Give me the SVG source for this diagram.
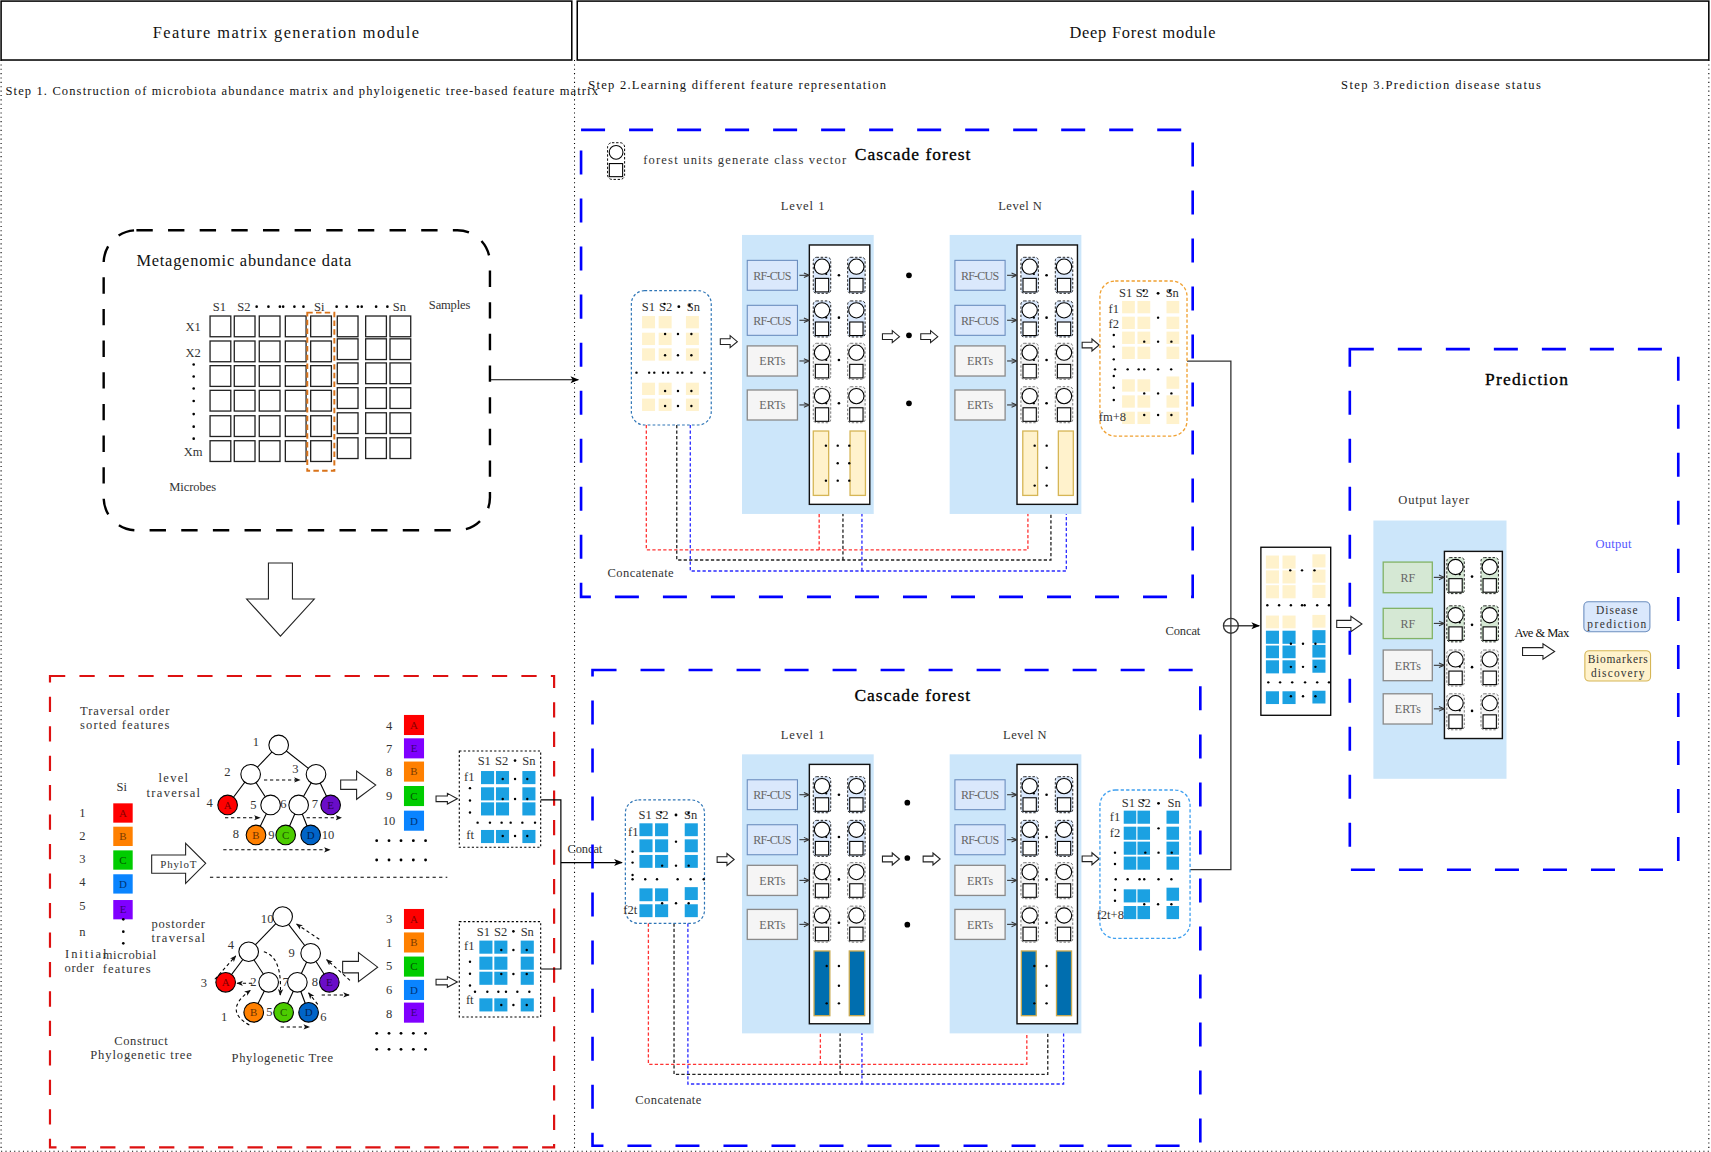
<svg xmlns="http://www.w3.org/2000/svg" width="1711" height="1152" viewBox="0 0 1711 1152">
<defs>
<style>
text{font-family:"Liberation Serif","DejaVu Serif",serif;fill:#333;font-size:11.5px}
.c{text-anchor:middle}
.hd{font-size:15px;fill:#111}
.ttl{font-size:16px;fill:#000;stroke:#000;stroke-width:0.3}
.stp{fill:#111}
.bt{font-size:11px;fill:#666;text-anchor:middle}
.lt{font-size:10px;text-anchor:middle}
.d{fill:#000}
.cell{fill:#fff;stroke:#222;stroke-width:1.2}
.bg{fill:#fff2cc}
.bl{fill:#1ba1e2}
.lbg{fill:#cce6fa}
.col{fill:#fff;stroke:#111;stroke-width:1.3}
.rfb{fill:#dae8fc;stroke:#6c8ebf;stroke-width:1}
.erb{fill:#f5f5f5;stroke:#8a8a8a;stroke-width:1.2}
.gnb{fill:#d5e8d4;stroke:#82b366;stroke-width:1.2}
.bdash{fill:none;stroke:#0000ff;stroke-width:2.4;stroke-dasharray:22 22}
.dotl{fill:none;stroke:#000;stroke-width:1;stroke-dasharray:1 3}
.hol{fill:#fff;stroke:#222;stroke-width:1}
.edge{stroke:#000;stroke-width:1}
.tda{fill:none;stroke:#000;stroke-width:1;stroke-dasharray:3 2.5;marker-end:url(#ak2)}
.sa{stroke:#333;stroke-width:1;marker-end:url(#ao)}
.dr{fill:none;stroke:#ff3333;stroke-width:1.2;stroke-dasharray:3 2;marker-end:url(#ar)}
.dk{fill:none;stroke:#222;stroke-width:1.2;stroke-dasharray:3 2;marker-end:url(#ak2)}
.db{fill:none;stroke:#2b2bff;stroke-width:1.2;stroke-dasharray:3 2;marker-end:url(#ab)}
.bar1{fill:#fff2cc;stroke:#d6b656;stroke-width:1.2}
.bar2{fill:#006eaf;stroke:#c9a94f;stroke-width:1.2}
</style>
<marker id="ak" viewBox="0 0 10 10" refX="9" refY="5" markerWidth="8" markerHeight="8" markerUnits="userSpaceOnUse" orient="auto"><path d="M0 1L10 5L0 9L2.5 5z" fill="#000"/></marker>
<marker id="ak2" viewBox="0 0 10 10" refX="9" refY="5" markerWidth="6" markerHeight="6" markerUnits="userSpaceOnUse" orient="auto"><path d="M0 1L10 5L0 9L2.5 5z" fill="#111"/></marker>
<marker id="ar" viewBox="0 0 10 10" refX="9" refY="5" markerWidth="6" markerHeight="6" markerUnits="userSpaceOnUse" orient="auto"><path d="M0 1L10 5L0 9L2.5 5z" fill="#ff3030"/></marker>
<marker id="ab" viewBox="0 0 10 10" refX="9" refY="5" markerWidth="6" markerHeight="6" markerUnits="userSpaceOnUse" orient="auto"><path d="M0 1L10 5L0 9L2.5 5z" fill="#1f1fff"/></marker>
<marker id="ao" viewBox="0 0 10 10" refX="9" refY="5" markerWidth="6" markerHeight="6" markerUnits="userSpaceOnUse" orient="auto"><path d="M1 1.5L9 5L1 8.5" fill="none" stroke="#333" stroke-width="1.6"/></marker>
<path id="ha" d="M0 -2.6H9V-5.5L15.6 0L9 5.5V2.6H0Z" fill="#fff" stroke="#222" stroke-width="1"/>
<g id="uB"><rect width="16" height="33" rx="3" fill="#dae8fc" stroke="#222" stroke-width="0.9" stroke-dasharray="2.2 1.6"/><circle cx="8" cy="8.6" r="7" fill="#fff" stroke="#000" stroke-width="1"/><rect x="1.9" y="19.3" width="12.2" height="12.4" fill="#fff" stroke="#000" stroke-width="1"/></g>
<g id="uG"><rect width="16" height="33" rx="3" fill="#f5f5f5" stroke="#777" stroke-width="0.9" stroke-dasharray="2.2 1.6"/><circle cx="8" cy="8.6" r="7" fill="#fff" stroke="#000" stroke-width="1"/><rect x="1.9" y="19.3" width="12.2" height="12.4" fill="#fff" stroke="#000" stroke-width="1"/></g>
<g id="uN"><rect width="16" height="33" rx="3" fill="#d5e8d4" stroke="#222" stroke-width="0.9" stroke-dasharray="2.2 1.6"/><circle cx="8" cy="8.6" r="7" fill="#fff" stroke="#000" stroke-width="1"/><rect x="1.9" y="19.3" width="12.2" height="12.4" fill="#fff" stroke="#000" stroke-width="1"/></g>
<g id="lvlbase">
<rect class="lbg" width="120.7" height="255.7"/>
<rect class="col" x="61.7" y="9.2" width="55.4" height="237.7"/>
<rect class="rfb" x="4.8" y="23.3" width="46" height="27.4"/>
<rect class="rfb" x="4.8" y="64.5" width="46" height="27.5"/>
<rect class="erb" x="4.8" y="101.7" width="46" height="27.6"/>
<rect class="erb" x="4.8" y="142.1" width="46" height="27.5"/>
<line class="sa" x1="52.6" y1="37" x2="61.5" y2="37"/>
<line class="sa" x1="52.6" y1="78.2" x2="61.5" y2="78.2"/>
<line class="sa" x1="52.6" y1="115.5" x2="61.5" y2="115.5"/>
<line class="sa" x1="52.6" y1="155.8" x2="61.5" y2="155.8"/>
<use href="#uB" x="65.3" y="20.5"/><use href="#uB" x="96.8" y="20.5"/>
<use href="#uB" x="65.3" y="60.5"/><use href="#uB" x="96.8" y="60.5"/>
<use href="#uG" x="65.3" y="99.3"/><use href="#uG" x="96.8" y="99.3"/>
<use href="#uG" x="65.3" y="139.1"/><use href="#uG" x="96.8" y="139.1"/>
<g class="d"><circle cx="77.2" cy="35.8" r="1"/><circle cx="88.8" cy="37" r="1.2"/><circle cx="77.2" cy="75.8" r="1"/><circle cx="88.8" cy="75.8" r="1.2"/><circle cx="77.2" cy="114.6" r="1"/><circle cx="88.8" cy="114.6" r="1.2"/><circle cx="77.2" cy="154.3" r="1"/><circle cx="88.8" cy="154.3" r="1.2"/></g>
</g>
</defs>
<rect width="1711" height="1152" fill="#fff"/>
<g transform="scale(1.0912)">

<g id="frame">
<path class="dotl" d="M1 55V1055M526.5 55V1055M1566 55V1055M1 1055H1566"/>
<rect x="1" y="1" width="523" height="54" fill="none" stroke="#000" stroke-width="1.4"/>
<text x="262" y="35" class="hd c" textLength="244">Feature matrix generation module</text>
<rect x="529" y="1" width="1037" height="54" fill="none" stroke="#000" stroke-width="1.4"/>
<text x="1047" y="35" class="hd c" textLength="134">Deep Forest module</text>
<text x="5" y="87" class="stp" textLength="543">Step 1. Construction of microbiota abundance matrix and phyloigenetic tree-based feature matrix</text>
<text x="539" y="82" class="stp" textLength="273">Step 2.Learning different feature representation</text>
<text x="1229" y="82" class="stp" textLength="183">Step 3.Prediction disease status</text>
</g>

<g id="abundance">
<rect x="95" y="211" width="354" height="275" rx="30" fill="none" stroke="#000" stroke-width="2.2" stroke-dasharray="15 14"/>
<text x="125" y="244" class="hd" textLength="197">Metagenomic abundance data</text>
<g class="cell">
<rect x="192.5" y="289.6" width="19" height="19"/><rect x="214.7" y="289.6" width="19" height="19"/><rect x="237.6" y="289.6" width="19" height="19"/><rect x="261.5" y="289.6" width="19" height="19"/><rect x="284.7" y="289.6" width="19" height="19"/><rect x="309.1" y="289.6" width="19" height="19"/><rect x="335.1" y="289.6" width="19" height="19"/><rect x="357.4" y="289.6" width="19" height="19"/>
<rect x="192.5" y="312.5" width="19" height="19"/><rect x="214.7" y="312.5" width="19" height="19"/><rect x="237.6" y="312.5" width="19" height="19"/><rect x="261.5" y="312.5" width="19" height="19"/><rect x="284.7" y="312.5" width="19" height="19"/><rect x="309.1" y="310.5" width="19" height="19"/><rect x="335.1" y="310.5" width="19" height="19"/><rect x="357.4" y="310.5" width="19" height="19"/>
<rect x="192.5" y="335.1" width="19" height="19"/><rect x="214.7" y="335.1" width="19" height="19"/><rect x="237.6" y="335.1" width="19" height="19"/><rect x="261.5" y="335.1" width="19" height="19"/><rect x="284.7" y="335.1" width="19" height="19"/><rect x="309.1" y="332.6" width="19" height="19"/><rect x="335.1" y="332.6" width="19" height="19"/><rect x="357.4" y="332.6" width="19" height="19"/>
<rect x="192.5" y="357.7" width="19" height="19"/><rect x="214.7" y="357.7" width="19" height="19"/><rect x="237.6" y="357.7" width="19" height="19"/><rect x="261.5" y="357.7" width="19" height="19"/><rect x="284.7" y="357.7" width="19" height="19"/><rect x="309.1" y="355.3" width="19" height="19"/><rect x="335.1" y="355.3" width="19" height="19"/><rect x="357.4" y="355.3" width="19" height="19"/>
<rect x="192.5" y="381" width="19" height="19"/><rect x="214.7" y="381" width="19" height="19"/><rect x="237.6" y="381" width="19" height="19"/><rect x="261.5" y="381" width="19" height="19"/><rect x="284.7" y="381" width="19" height="19"/><rect x="309.1" y="378.3" width="19" height="19"/><rect x="335.1" y="378.3" width="19" height="19"/><rect x="357.4" y="378.3" width="19" height="19"/>
<rect x="192.5" y="403.9" width="19" height="19"/><rect x="214.7" y="403.9" width="19" height="19"/><rect x="237.6" y="403.9" width="19" height="19"/><rect x="261.5" y="403.9" width="19" height="19"/><rect x="284.7" y="403.9" width="19" height="19"/><rect x="309.1" y="401.2" width="19" height="19"/><rect x="335.1" y="401.2" width="19" height="19"/><rect x="357.4" y="401.2" width="19" height="19"/>
</g>
<rect x="281.6" y="286.5" width="24.8" height="145" fill="none" stroke="#d9731a" stroke-width="1.8" stroke-dasharray="5 3"/>
<text x="201" y="285" class="c">S1</text><text x="223.6" y="285" class="c">S2</text><text x="292.6" y="285" class="c">Si</text><text x="366" y="285" class="c">Sn</text>
<g class="d"><circle cx="235.2" cy="281" r="1.2"/><circle cx="246" cy="281" r="1.2"/><circle cx="256.5" cy="281" r="1.2"/><circle cx="259.5" cy="281" r="1.2"/><circle cx="269.8" cy="281" r="1.2"/><circle cx="278.1" cy="281" r="1.2"/>
<circle cx="308.5" cy="281" r="1.2"/><circle cx="317.7" cy="281" r="1.2"/><circle cx="328" cy="281" r="1.2"/><circle cx="331.5" cy="281" r="1.2"/><circle cx="344.7" cy="281" r="1.2"/><circle cx="355" cy="281" r="1.2"/>
<circle cx="177.5" cy="334" r="1.2"/><circle cx="177.5" cy="345" r="1.2"/><circle cx="177.5" cy="356" r="1.2"/><circle cx="177.5" cy="367.5" r="1.2"/><circle cx="177.5" cy="379.5" r="1.2"/><circle cx="177.5" cy="391" r="1.2"/><circle cx="177.5" cy="402" r="1.2"/></g>
<text x="412" y="283" class="c" textLength="38">Samples</text>
<text x="177" y="303" class="c">X1</text><text x="177" y="327" class="c">X2</text><text x="177" y="418" class="c">Xm</text>
<text x="155" y="450" textLength="43">Microbes</text>
</g>

<g id="down-arrow"><polygon class="hol" points="246,516 268,516 268,549 288,549 257,583 226,549 246,549"/></g>

<g id="phylo-panel">
<rect x="45.8" y="619.5" width="462" height="432" fill="none" stroke="#dd1111" stroke-width="2" stroke-dasharray="14 13"/>
<text x="73.3" y="655" textLength="82">Traversal order</text>
<text x="73.3" y="668" textLength="82">sorted features</text>
<text x="158.8" y="717" class="c" textLength="27">level</text>
<text x="158.8" y="730" class="c" textLength="49">traversal</text>
<text x="111.5" y="725.3" class="c">Si</text>
<text x="75.4" y="748.5" class="c">1</text><text x="75.4" y="769.6" class="c">2</text><text x="75.4" y="790.8" class="c">3</text><text x="75.4" y="812.4" class="c">4</text><text x="75.4" y="834.1" class="c">5</text><text x="75.4" y="857.8" class="c">n</text>
<rect x="103.8" y="736.2" width="17.8" height="17.7" fill="#ff0000"/><rect x="103.8" y="757.6" width="17.8" height="17.7" fill="#ff8000"/><rect x="103.8" y="779.3" width="17.8" height="17.7" fill="#00cc00"/><rect x="103.8" y="801.2" width="17.8" height="17.7" fill="#0a84ff"/><rect x="103.8" y="824.8" width="17.8" height="17.7" fill="#8000ff"/>
<text x="112.7" y="748.5" class="lt" style="fill:#8b0000">A</text><text x="112.7" y="769.9" class="lt" style="fill:#7a3a00">B</text><text x="112.7" y="791.6" class="lt" style="fill:#005500">C</text><text x="112.7" y="813.5" class="lt" style="fill:#003377">D</text><text x="112.7" y="837.1" class="lt" style="fill:#3a0077">E</text>
<g class="d"><circle cx="113" cy="842.5" r="1.2"/><circle cx="113" cy="853.8" r="1.2"/><circle cx="113" cy="864.5" r="1.2"/></g>
<text x="59.6" y="877.5" textLength="38">Initial</text>
<text x="59" y="890.5" textLength="27">order</text>
<text x="94.1" y="879" textLength="49">microbial</text>
<text x="94.1" y="892" textLength="44">features</text>
<polygon class="hol" points="139,783.5 170.1,783.5 170.1,772.8 188.5,791.2 170.1,809.5 170.1,800.3 139,800.3"/>
<text x="163.4" y="795" class="lt" textLength="33">PhyloT</text>
<line x1="192.4" y1="804" x2="409.9" y2="804" stroke="#000" stroke-width="1" stroke-dasharray="3 3"/>
<text x="129.2" y="957.5" class="c" textLength="49">Construct</text>
<text x="129.2" y="970.6" class="c" textLength="93">Phylogenetic tree</text>
</g>

<g id="level-tree">
<g class="edge">
<line x1="255.4" y1="682.7" x2="229.7" y2="709.6"/><line x1="255.4" y1="682.7" x2="289.6" y2="709.6"/>
<line x1="229.7" y1="709.6" x2="208.6" y2="737.7"/><line x1="229.7" y1="709.6" x2="248" y2="737.7"/>
<line x1="289.6" y1="709.6" x2="273.7" y2="737.7"/><line x1="289.6" y1="709.6" x2="303" y2="737.7"/>
<line x1="248" y1="737.7" x2="234.6" y2="765.2"/><line x1="273.7" y1="737.7" x2="261.8" y2="765.2"/><line x1="273.7" y1="737.7" x2="284.7" y2="765.2"/>
</g>
<g class="edge">
<circle cx="255.4" cy="682.7" r="9" fill="#fff"/><circle cx="229.7" cy="709.6" r="9" fill="#fff"/><circle cx="289.6" cy="709.6" r="9" fill="#fff"/>
<circle cx="208.6" cy="737.7" r="9" fill="#ff0000"/><circle cx="248" cy="737.7" r="9" fill="#fff"/><circle cx="273.7" cy="737.7" r="9" fill="#fff"/><circle cx="303" cy="737.7" r="9" fill="#6a0dc8"/>
<circle cx="234.6" cy="765.2" r="9" fill="#ff8000"/><circle cx="261.8" cy="765.2" r="9" fill="#4ccc00"/><circle cx="284.7" cy="765.2" r="9" fill="#0064c8"/>
</g>
<text x="208.6" y="741.2" class="lt" style="fill:#7a0000">A</text><text x="303" y="741.2" class="lt" style="fill:#2a0055">E</text><text x="234.6" y="768.7" class="lt" style="fill:#6a3000">B</text><text x="261.8" y="768.7" class="lt" style="fill:#1d5500">C</text><text x="284.7" y="768.7" class="lt" style="fill:#002255">D</text>
<text x="234.6" y="683.5" class="c">1</text><text x="208.3" y="711.3" class="c">2</text><text x="270.6" y="708.8" class="c">3</text><text x="192.1" y="740" class="c">4</text><text x="232.1" y="741.5" class="c">5</text><text x="259.6" y="740.6" class="c">6</text><text x="288.6" y="740.6" class="c">7</text><text x="216.2" y="768.4" class="c">8</text><text x="248.8" y="768.8" class="c">9</text><text x="300.5" y="768.8" class="c">10</text>
<line class="tda" x1="241.9" y1="714.8" x2="274.9" y2="714.8"/>
<line class="tda" x1="206.2" y1="749.4" x2="238.3" y2="749.4"/>
<line class="tda" x1="281" y1="749.4" x2="313" y2="749.4"/>
<line class="tda" x1="204.6" y1="778.8" x2="302.4" y2="778.8"/>
</g>

<g id="postorder-tree">
<text x="163.4" y="850" class="c" textLength="49">postorder</text>
<text x="163.4" y="863" class="c" textLength="49">traversal</text>
<g class="edge">
<line x1="259" y1="840" x2="227.9" y2="872.2"/><line x1="259" y1="840" x2="284.7" y2="873.6"/>
<line x1="227.9" y1="872.2" x2="206.8" y2="900.2"/><line x1="227.9" y1="872.2" x2="246.2" y2="900.2"/>
<line x1="284.7" y1="873.6" x2="272.5" y2="900.2"/><line x1="284.7" y1="873.6" x2="301.8" y2="900.2"/>
<line x1="246.2" y1="900.2" x2="232.5" y2="927.7"/><line x1="272.5" y1="900.2" x2="259.9" y2="927.7"/><line x1="272.5" y1="900.2" x2="282.8" y2="927.7"/>
</g>
<g class="edge">
<circle cx="259" cy="840" r="9" fill="#fff"/><circle cx="227.9" cy="872.2" r="9" fill="#fff"/><circle cx="284.7" cy="873.6" r="9" fill="#fff"/>
<circle cx="206.8" cy="900.2" r="9" fill="#ff0000"/><circle cx="246.2" cy="900.2" r="9" fill="#fff"/><circle cx="272.5" cy="900.2" r="9" fill="#fff"/><circle cx="301.8" cy="900.2" r="9" fill="#6a0dc8"/>
<circle cx="232.5" cy="927.7" r="9" fill="#ff8000"/><circle cx="259.9" cy="927.7" r="9" fill="#4ccc00"/><circle cx="282.8" cy="927.7" r="9" fill="#0064c8"/>
</g>
<text x="206.8" y="903.7" class="lt" style="fill:#7a0000">A</text><text x="301.8" y="903.7" class="lt" style="fill:#2a0055">E</text><text x="232.5" y="931.2" class="lt" style="fill:#6a3000">B</text><text x="259.9" y="931.2" class="lt" style="fill:#1d5500">C</text><text x="282.8" y="931.2" class="lt" style="fill:#002255">D</text>
<text x="244.8" y="845.4" class="c">10</text><text x="211.5" y="869.7" class="c">4</text><text x="267.2" y="877.4" class="c">9</text><text x="186.9" y="904.9" class="c">3</text><text x="232.1" y="904" class="c">2</text><text x="261.8" y="904" class="c">7</text><text x="288.6" y="904" class="c">8</text><text x="205.3" y="935.4" class="c">1</text><text x="246.8" y="931.5" class="c">5</text><text x="296.3" y="935.4" class="c">6</text>
<path class="tda" d="M228.5 939.3Q204 926 229.5 907.5"/>
<line class="tda" x1="231" y1="901.1" x2="217.2" y2="901.1"/>
<line class="tda" x1="196.9" y1="897.4" x2="216.1" y2="876"/>
<path class="tda" d="M241.8 872.2Q259 877 256.8 911.9"/>
<line class="tda" x1="257.2" y1="941.1" x2="283.5" y2="941.1"/>
<line class="tda" x1="291.2" y1="920.5" x2="282.8" y2="909.9"/>
<line class="tda" x1="294.8" y1="911.8" x2="320" y2="911.8"/>
<line class="tda" x1="320.7" y1="898.4" x2="299.3" y2="879.4"/>
<line class="tda" x1="292.6" y1="860.8" x2="271.8" y2="846.8"/>
<text x="258.7" y="973" class="c" textLength="93">Phylogenetic Tree</text>
</g>

<g id="level-list">
<polygon class="hol" points="312.2,714.8 326.8,714.8 326.8,706.6 344.3,719.5 326.8,732.5 326.8,723.4 312.2,723.4"/>
<text x="356.5" y="669.1" class="c">4</text><text x="356.5" y="690.5" class="c">7</text><text x="356.5" y="711.3" class="c">8</text><text x="356.5" y="733.3" class="c">9</text><text x="356.5" y="755.6" class="c">10</text>
<rect x="370.2" y="655.2" width="18.4" height="18.4" fill="#ff0000"/><rect x="370.2" y="676.6" width="18.4" height="18.4" fill="#8000ff"/><rect x="370.2" y="697.9" width="18.4" height="18.4" fill="#ff8000"/><rect x="370.2" y="720.3" width="18.4" height="18.4" fill="#00cc00"/><rect x="370.2" y="742.9" width="18.4" height="18.4" fill="#0a84ff"/>
<text x="379.4" y="667.9" class="lt" style="fill:#8b0000">A</text><text x="379.4" y="689.3" class="lt" style="fill:#3a0077">E</text><text x="379.4" y="710.6" class="lt" style="fill:#7a3a00">B</text><text x="379.4" y="733" class="lt" style="fill:#005500">C</text><text x="379.4" y="755.6" class="lt" style="fill:#003377">D</text>
<g class="d"><circle cx="345.2" cy="770.4" r="1.3"/><circle cx="356.5" cy="770.4" r="1.3"/><circle cx="367.5" cy="770.4" r="1.3"/><circle cx="378.8" cy="770.4" r="1.3"/><circle cx="390" cy="770.4" r="1.3"/>
<circle cx="345.2" cy="788.1" r="1.3"/><circle cx="356.5" cy="788.1" r="1.3"/><circle cx="367.5" cy="788.1" r="1.3"/><circle cx="378.8" cy="788.1" r="1.3"/><circle cx="390" cy="788.1" r="1.3"/></g>
<polygon class="hol" points="399.6,729.4 410,729.4 410,727 419.1,732 410,736.8 410,734.6 399.6,734.6"/>
</g>

<g id="level-matrix">
<rect x="420.9" y="688.2" width="74.6" height="88.3" fill="#fff" stroke="#000" stroke-width="1" stroke-dasharray="2 2"/>
<g class="bl">
<rect x="440.8" y="706.6" width="12" height="12"/><rect x="454.5" y="706.6" width="12" height="12"/><rect x="478.7" y="706.6" width="12" height="12"/>
<rect x="440.8" y="721.5" width="12" height="12"/><rect x="454.5" y="721.5" width="12" height="12"/><rect x="478.7" y="721.5" width="12" height="12"/>
<rect x="440.8" y="735.3" width="12" height="12"/><rect x="454.5" y="735.3" width="12" height="12"/><rect x="478.7" y="735.3" width="12" height="12"/>
<rect x="440.8" y="760.6" width="12" height="12"/><rect x="454.5" y="760.6" width="12" height="12"/><rect x="478.7" y="760.6" width="12" height="12"/>
</g>
<text x="443.8" y="701" class="c">S1</text><text x="459.7" y="701" class="c">S2</text><text x="484.7" y="701" class="c">Sn</text>
<text x="430" y="716" class="c">f1</text><text x="430.8" y="768.5" class="c">ft</text>
<g class="d">
<circle cx="472" cy="697" r="1.2"/><circle cx="460.7" cy="713.9" r="1.1"/><circle cx="472" cy="713.9" r="1.1"/><circle cx="483.2" cy="713.9" r="1.1"/>
<circle cx="460.7" cy="732.2" r="1.1"/><circle cx="472" cy="732.2" r="1.1"/><circle cx="483.2" cy="732.2" r="1.1"/>
<circle cx="460.7" cy="766.1" r="1.1"/><circle cx="472" cy="766.1" r="1.1"/><circle cx="483.2" cy="766.1" r="1.1"/>
<circle cx="430.7" cy="722.3" r="1.1"/><circle cx="430.7" cy="733.6" r="1.1"/><circle cx="430.7" cy="744.6" r="1.1"/>
<circle cx="437.7" cy="753.9" r="1.1"/><circle cx="449" cy="753.9" r="1.1"/><circle cx="459.7" cy="753.9" r="1.1"/><circle cx="468" cy="753.9" r="1.1"/><circle cx="478.7" cy="753.9" r="1.1"/><circle cx="490.3" cy="753.9" r="1.1"/>
</g>
</g>

<g id="post-list">
<polygon class="hol" points="314,881 328.5,881 328.5,873 346.1,886.3 328.5,899.6 328.5,891.6 314,891.6"/>
<text x="356.5" y="846.3" class="c">3</text><text x="356.5" y="867.7" class="c">1</text><text x="356.5" y="888.8" class="c">5</text><text x="356.5" y="910.5" class="c">6</text><text x="356.5" y="932.5" class="c">8</text>
<rect x="370.2" y="833" width="18.4" height="18.4" fill="#ff0000"/><rect x="370.2" y="854.5" width="18.4" height="18.4" fill="#ff8000"/><rect x="370.2" y="876.6" width="18.4" height="18.4" fill="#00cc00"/><rect x="370.2" y="898" width="18.4" height="18.4" fill="#0a84ff"/><rect x="370.2" y="918.8" width="18.4" height="18.4" fill="#8000ff"/>
<text x="379.4" y="845.7" class="lt" style="fill:#8b0000">A</text><text x="379.4" y="867.2" class="lt" style="fill:#7a3a00">B</text><text x="379.4" y="889.3" class="lt" style="fill:#005500">C</text><text x="379.4" y="910.7" class="lt" style="fill:#003377">D</text><text x="379.4" y="931.5" class="lt" style="fill:#3a0077">E</text>
<g class="d"><circle cx="345.2" cy="947" r="1.3"/><circle cx="356.5" cy="947" r="1.3"/><circle cx="367.5" cy="947" r="1.3"/><circle cx="378.8" cy="947" r="1.3"/><circle cx="390" cy="947" r="1.3"/>
<circle cx="345.2" cy="961.6" r="1.3"/><circle cx="356.5" cy="961.6" r="1.3"/><circle cx="367.5" cy="961.6" r="1.3"/><circle cx="378.8" cy="961.6" r="1.3"/><circle cx="390" cy="961.6" r="1.3"/></g>
<polygon class="hol" points="399.6,897.4 410,897.4 410,895 419.1,900 410,904.8 410,902.6 399.6,902.6"/>
</g>

<g id="post-matrix">
<rect x="420.9" y="844.6" width="74.6" height="87.4" fill="#fff" stroke="#000" stroke-width="1" stroke-dasharray="2 2"/>
<g class="bl">
<rect x="439.3" y="862" width="12" height="12"/><rect x="453" y="862" width="12" height="12"/><rect x="477.2" y="862" width="12" height="12"/>
<rect x="439.3" y="876.7" width="12" height="12"/><rect x="453" y="876.7" width="12" height="12"/><rect x="477.2" y="876.7" width="12" height="12"/>
<rect x="439.3" y="890.5" width="12" height="12"/><rect x="453" y="890.5" width="12" height="12"/><rect x="477.2" y="890.5" width="12" height="12"/>
<rect x="439.3" y="914.9" width="12" height="12"/><rect x="453" y="914.9" width="12" height="12"/><rect x="477.2" y="914.9" width="12" height="12"/>
</g>
<text x="443" y="857.5" class="c">S1</text><text x="458.8" y="857.5" class="c">S2</text><text x="483.2" y="857.5" class="c">Sn</text>
<text x="430" y="871" class="c">f1</text><text x="430.5" y="920" class="c">ft</text>
<g class="d">
<circle cx="470.5" cy="853.5" r="1.2"/><circle cx="459.4" cy="870.6" r="1.1"/><circle cx="470.5" cy="870.6" r="1.1"/><circle cx="482.7" cy="870.6" r="1.1"/>
<circle cx="459.4" cy="892.6" r="1.1"/><circle cx="470.5" cy="892.6" r="1.1"/><circle cx="482.7" cy="892.6" r="1.1"/>
<circle cx="459.4" cy="921" r="1.1"/><circle cx="470.5" cy="921" r="1.1"/><circle cx="482.7" cy="921" r="1.1"/>
<circle cx="430.7" cy="881.4" r="1.1"/><circle cx="430.7" cy="892.4" r="1.1"/><circle cx="430.7" cy="903.1" r="1.1"/>
<circle cx="435.3" cy="908.8" r="1.1"/><circle cx="446.6" cy="908.8" r="1.1"/><circle cx="456.7" cy="908.8" r="1.1"/><circle cx="463.7" cy="908.8" r="1.1"/><circle cx="474.1" cy="908.8" r="1.1"/><circle cx="485.1" cy="908.8" r="1.1"/>
</g>
</g>

<g id="connectors">
<line x1="450" y1="348" x2="530" y2="348" stroke="#000" stroke-width="1.1" marker-end="url(#ak)"/>
<path d="M495.5 733H514V888H495.5" fill="none" stroke="#000" stroke-width="1.1"/>
<line x1="514" y1="790.5" x2="570" y2="790.5" stroke="#000" stroke-width="1.1" marker-end="url(#ak)"/>
<text x="520" y="782" textLength="32">Concat</text>
<path class="dr" d="M592.3 389.5V504H942V463"/><path class="dr" d="M750.7 504V463"/>
<path class="dk" d="M620.2 389.5V513.2H963.1V463"/><path class="dk" d="M772.5 513.2V463"/>
<path class="db" d="M632.6 389.5V523.3H977.2V463"/><path class="db" d="M789.9 523.3V463"/>
<path class="dr" d="M594.2 846.2V975.4H941V939"/><path class="dr" d="M751.8 975.4V939"/>
<path class="dk" d="M617.7 846.2V984.5H960.2V939"/><path class="dk" d="M769.9 984.5V939"/>
<path class="db" d="M630.4 846.2V993.4H974.7V939"/><path class="db" d="M789.9 993.4V939"/>
<path d="M1087.8 331H1128V797H1090.6" fill="none" stroke="#333" stroke-width="1.2"/>
<circle cx="1128" cy="573.5" r="6.8" fill="#fff" stroke="#333" stroke-width="1.2"/>
<path d="M1121.2 573.5H1134.8M1128 566.7V580.3" stroke="#333" stroke-width="1.2"/>
<line x1="1134.8" y1="573.5" x2="1154" y2="573.5" stroke="#111" stroke-width="1.1" marker-end="url(#ak)"/>
<text x="1068" y="582" textLength="32">Concat</text>
</g>

<g id="cascade-upper">
<rect class="bdash" x="532.5" y="119" width="560.5" height="428"/>
<rect x="556.8" y="130.8" width="15.6" height="33.6" rx="4" fill="#fff" stroke="#000" stroke-width="0.9" stroke-dasharray="2.2 1.6"/>
<circle cx="564.6" cy="139.6" r="6.3" fill="none" stroke="#000" stroke-width="1"/>
<rect x="558.4" y="149.9" width="12.2" height="12" fill="#fff" stroke="#000" stroke-width="1"/>
<text x="589.4" y="150.5" textLength="186">forest units generate class vector</text>
<text x="783.3" y="146.5" class="ttl" textLength="106">Cascade forest</text>
<text x="735.5" y="192.5" class="c" textLength="40">Level 1</text>
<text x="934.8" y="192.5" class="c" textLength="40">Level N</text>
<text x="556.8" y="529" textLength="60.5">Concatenate</text>
</g>

<g id="input-upper">
<rect x="578.6" y="266.4" width="73.2" height="123.1" rx="12" fill="#fff" stroke="#2e75b6" stroke-width="1.1" stroke-dasharray="2.5 2"/>
<g class="bg">
<rect x="588.4" y="289.6" width="11.9" height="11.3"/><rect x="603.6" y="289.6" width="11.9" height="11.3"/><rect x="628.6" y="289.6" width="11.9" height="11.3"/>
<rect x="588.4" y="304.9" width="11.9" height="11.3"/><rect x="603.6" y="304.9" width="11.9" height="11.3"/><rect x="628.6" y="304.9" width="11.9" height="11.3"/>
<rect x="588.4" y="319.2" width="11.9" height="11.3"/><rect x="603.6" y="319.2" width="11.9" height="11.3"/><rect x="628.6" y="319.2" width="11.9" height="11.3"/>
<rect x="588.4" y="350.7" width="11.9" height="11.3"/><rect x="603.6" y="350.7" width="11.9" height="11.3"/><rect x="628.6" y="350.7" width="11.9" height="11.3"/>
<rect x="588.4" y="365.3" width="11.9" height="11.3"/><rect x="603.6" y="365.3" width="11.9" height="11.3"/><rect x="628.6" y="365.3" width="11.9" height="11.3"/>
</g>
<text x="594.2" y="285" class="c">S1</text><text x="610.1" y="285" class="c">S2</text><text x="635.5" y="285" class="c">Sn</text>
<g class="d">
<circle cx="622.1" cy="281" r="1.3"/><circle cx="609" cy="278.5" r="1.1"/><circle cx="632" cy="279.5" r="1.1"/>
<circle cx="609.5" cy="306.1" r="1.1"/><circle cx="621.3" cy="306.1" r="1.1"/><circle cx="633.6" cy="306.1" r="1.1"/>
<circle cx="609.5" cy="325.6" r="1.1"/><circle cx="621.3" cy="325.6" r="1.1"/><circle cx="633.6" cy="325.6" r="1.1"/>
<circle cx="609.5" cy="358.3" r="1.1"/><circle cx="621.3" cy="358.3" r="1.1"/><circle cx="633.6" cy="358.3" r="1.1"/>
<circle cx="609.5" cy="372.1" r="1.1"/><circle cx="621.3" cy="372.1" r="1.1"/><circle cx="633.6" cy="372.1" r="1.1"/>
<circle cx="583.3" cy="341.5" r="1.1"/><circle cx="594.9" cy="341.5" r="1.1"/><circle cx="599.6" cy="341.5" r="1.1"/><circle cx="607.6" cy="341.5" r="1.1"/><circle cx="612.3" cy="341.5" r="1.1"/><circle cx="621" cy="341.5" r="1.1"/><circle cx="625.3" cy="341.5" r="1.1"/><circle cx="633.7" cy="341.5" r="1.1"/><circle cx="645.6" cy="341.5" r="1.1"/>
</g>
<use href="#ha" x="660.1" y="313.1"/>
</g>

<g id="upper-level1" transform="translate(680 215.3)">
<use href="#lvlbase"/>
<text class="bt" x="27.8" y="41" textLength="35">RF-CUS</text><text class="bt" x="27.8" y="82.2" textLength="35">RF-CUS</text><text class="bt" x="27.8" y="119.5" textLength="24">ERTs</text><text class="bt" x="27.8" y="159.8" textLength="24">ERTs</text>
<rect class="bar1" x="65.3" y="179.7" width="14.1" height="59"/><rect class="bar1" x="99" y="179.7" width="14.1" height="59"/>
<g class="d"><circle cx="76.9" cy="193.1" r="1.1"/><circle cx="87.7" cy="193.1" r="1.1"/><circle cx="98.3" cy="193.1" r="1.1"/><circle cx="87.7" cy="209.3" r="1.1"/><circle cx="98.3" cy="209.3" r="1.1"/><circle cx="76.9" cy="225.2" r="1.1"/><circle cx="87.7" cy="225.2" r="1.1"/><circle cx="98.3" cy="225.2" r="1.1"/></g>
</g>

<g id="upper-between">
<g class="d"><circle cx="833" cy="252.3" r="2.6"/><circle cx="833" cy="307.3" r="2.6"/><circle cx="833" cy="369.6" r="2.6"/></g>
<use href="#ha" x="808.7" y="308.5"/><use href="#ha" x="843.8" y="308.5"/>
</g>

<g id="upper-levelN" transform="translate(870.3 215.3)">
<use href="#lvlbase"/>
<text class="bt" x="27.8" y="41" textLength="35">RF-CUS</text><text class="bt" x="27.8" y="82.2" textLength="35">RF-CUS</text><text class="bt" x="27.8" y="119.5" textLength="24">ERTs</text><text class="bt" x="27.8" y="159.8" textLength="24">ERTs</text>
<rect class="bar1" x="67" y="179.7" width="13.6" height="59"/><rect class="bar1" x="99.6" y="179.7" width="13.7" height="59"/>
<g class="d"><circle cx="77.9" cy="193.1" r="1.1"/><circle cx="88.9" cy="193.1" r="1.1"/><circle cx="88.9" cy="213.3" r="1.1"/><circle cx="77.9" cy="229.7" r="1.1"/><circle cx="88.9" cy="229.7" r="1.1"/></g>
</g>

<g id="output-upper">
<use href="#ha" x="991.7" y="316.2"/>
<rect x="1008" y="257.5" width="79.8" height="142.1" rx="14" fill="#fff" stroke="#f0a030" stroke-width="1.2" stroke-dasharray="3 2"/>
<g class="bg">
<rect x="1028.3" y="275.8" width="11.7" height="11.3"/><rect x="1042.4" y="275.8" width="11.7" height="11.3"/><rect x="1069" y="275.8" width="11.7" height="11.3"/>
<rect x="1028.3" y="290.2" width="11.7" height="11.3"/><rect x="1042.4" y="290.2" width="11.7" height="11.3"/><rect x="1069" y="290.2" width="11.7" height="11.3"/>
<rect x="1028.3" y="303.9" width="11.7" height="11.3"/><rect x="1042.4" y="303.9" width="11.7" height="11.3"/><rect x="1069" y="303.9" width="11.7" height="11.3"/>
<rect x="1028.3" y="317.7" width="11.7" height="11.3"/><rect x="1042.4" y="317.7" width="11.7" height="11.3"/><rect x="1069" y="317.7" width="11.7" height="11.3"/>
<rect x="1028.3" y="347.6" width="11.7" height="11.3"/><rect x="1042.4" y="347.6" width="11.7" height="11.3"/><rect x="1069" y="345" width="11.7" height="11.3"/>
<rect x="1028.3" y="362.3" width="11.7" height="11.3"/><rect x="1042.4" y="362.3" width="11.7" height="11.3"/><rect x="1069" y="362.3" width="11.7" height="11.3"/>
<rect x="1028.3" y="377.3" width="11.7" height="11.3"/><rect x="1042.4" y="377.3" width="11.7" height="11.3"/><rect x="1069" y="377.3" width="11.7" height="11.3"/>
</g>
<text x="1031.6" y="272.5" class="c">S1</text><text x="1046.8" y="272.5" class="c">S2</text><text x="1074.3" y="272.5" class="c">Sn</text>
<text x="1020.7" y="287" class="c">f1</text><text x="1020.7" y="301" class="c">f2</text><text x="1019.5" y="385.5" class="c">fm+8</text>
<g class="d">
<circle cx="1061.3" cy="268.8" r="1.3"/><circle cx="1048" cy="266.5" r="1.1"/><circle cx="1072" cy="266.5" r="1.1"/>
<circle cx="1061.3" cy="291.1" r="1.1"/>
<circle cx="1048.6" cy="313.1" r="1.1"/><circle cx="1061.3" cy="313.1" r="1.1"/><circle cx="1073.5" cy="313.1" r="1.1"/>
<circle cx="1048.6" cy="360.5" r="1.1"/><circle cx="1061.3" cy="360.5" r="1.1"/><circle cx="1073.5" cy="360.5" r="1.1"/>
<circle cx="1048.6" cy="380.3" r="1.1"/><circle cx="1061.3" cy="380.3" r="1.1"/><circle cx="1073.5" cy="380.3" r="1.1"/>
<circle cx="1020.7" cy="307" r="1.1"/><circle cx="1020.7" cy="317.7" r="1.1"/><circle cx="1020.7" cy="329.3" r="1.1"/><circle cx="1020.7" cy="344.6" r="1.1"/><circle cx="1020.7" cy="355.3" r="1.1"/><circle cx="1020.7" cy="366.6" r="1.1"/>
<circle cx="1021.8" cy="338.5" r="1.1"/><circle cx="1033.4" cy="338.5" r="1.1"/><circle cx="1043.5" cy="338.5" r="1.1"/><circle cx="1048.6" cy="338.5" r="1.1"/><circle cx="1061.3" cy="338.5" r="1.1"/><circle cx="1073.3" cy="338.5" r="1.1"/>
</g>
</g>

<g id="cascade-lower">
<rect class="bdash" x="543" y="614" width="557" height="436"/>
<text x="783" y="642.5" class="ttl" textLength="106">Cascade forest</text>
<text x="735.5" y="677" class="c" textLength="40">Level 1</text>
<text x="939.2" y="677" class="c" textLength="40">Level N</text>
<text x="582.2" y="1012" textLength="60.5">Concatenate</text>
</g>

<g id="input-lower">
<rect x="573.1" y="733.1" width="72.5" height="113.1" rx="12" fill="#fff" stroke="#2e75b6" stroke-width="1.1" stroke-dasharray="2.5 2"/>
<g class="bl">
<rect x="586" y="754.5" width="12" height="11.8"/><rect x="600.3" y="754.5" width="12" height="11.8"/><rect x="627.5" y="754.5" width="12" height="11.8"/>
<rect x="586" y="769.2" width="12" height="11.8"/><rect x="600.3" y="769.2" width="12" height="11.8"/><rect x="627.5" y="769.2" width="12" height="11.8"/>
<rect x="586" y="783.5" width="12" height="11.8"/><rect x="600.3" y="783.5" width="12" height="11.8"/><rect x="627.5" y="783.5" width="12" height="11.8"/>
<rect x="586" y="814.1" width="12" height="11.8"/><rect x="600.3" y="814.1" width="12" height="11.8"/><rect x="627.5" y="813" width="12" height="11.8"/>
<rect x="586" y="828.7" width="12" height="11.8"/><rect x="600.3" y="828.7" width="12" height="11.8"/><rect x="627.5" y="828.7" width="12" height="11.8"/>
</g>
<text x="591.3" y="750.5" class="c">S1</text><text x="606.5" y="750.5" class="c">S2</text><text x="632.9" y="750.5" class="c">Sn</text>
<text x="580.4" y="765.8" class="c">f1</text><text x="577.5" y="837.5" class="c">f2t</text>
<g class="d">
<circle cx="619.5" cy="746.9" r="1.3"/><circle cx="606" cy="744.5" r="1.1"/><circle cx="631" cy="745" r="1.1"/>
<circle cx="619.5" cy="771.3" r="1.1"/>
<circle cx="606.8" cy="793.3" r="1.1"/><circle cx="619.5" cy="793.3" r="1.1"/><circle cx="631.1" cy="793.3" r="1.1"/>
<circle cx="606.8" cy="827.8" r="1.1"/><circle cx="619.5" cy="827.8" r="1.1"/><circle cx="631.1" cy="827.8" r="1.1"/>
<circle cx="579.7" cy="780.5" r="1.1"/><circle cx="579.7" cy="790.5" r="1.1"/><circle cx="579.7" cy="801.9" r="1.1"/>
<circle cx="579.7" cy="805.8" r="1.1"/><circle cx="591.3" cy="805.8" r="1.1"/><circle cx="602.1" cy="805.8" r="1.1"/><circle cx="621" cy="805.8" r="1.1"/><circle cx="632.9" cy="805.8" r="1.1"/><circle cx="644.9" cy="805.8" r="1.1"/>
</g>
<use href="#ha" x="657.2" y="787.7"/>
</g>

<g id="lower-level1" transform="translate(680 691.3)">
<use href="#lvlbase"/>
<text class="bt" x="27.8" y="41" textLength="35">RF-CUS</text><text class="bt" x="27.8" y="82.2" textLength="35">RF-CUS</text><text class="bt" x="27.8" y="119.5" textLength="24">ERTs</text><text class="bt" x="27.8" y="159.8" textLength="24">ERTs</text>
<rect class="bar2" x="66" y="180.2" width="14.5" height="59.3"/><rect class="bar2" x="98.3" y="180.2" width="14.1" height="59.3"/>
<g class="d"><circle cx="77.6" cy="194" r="1.1"/><circle cx="88.8" cy="194" r="1.1"/><circle cx="88.8" cy="212" r="1.1"/><circle cx="77.6" cy="228.2" r="1.1"/><circle cx="88.8" cy="228.2" r="1.1"/></g>
</g>

<g id="lower-between">
<g class="d"><circle cx="831.5" cy="735.6" r="2.6"/><circle cx="831.5" cy="786.3" r="2.6"/><circle cx="831.5" cy="847.4" r="2.6"/></g>
<use href="#ha" x="808.7" y="787.2"/><use href="#ha" x="846" y="787.2"/>
</g>

<g id="lower-levelN" transform="translate(870.3 691.3)">
<use href="#lvlbase"/>
<text class="bt" x="27.8" y="41" textLength="35">RF-CUS</text><text class="bt" x="27.8" y="82.2" textLength="35">RF-CUS</text><text class="bt" x="27.8" y="119.5" textLength="24">ERTs</text><text class="bt" x="27.8" y="159.8" textLength="24">ERTs</text>
<rect class="bar2" x="65.7" y="180.2" width="13.6" height="59.3"/><rect class="bar2" x="97.9" y="180.2" width="13.8" height="59.3"/>
<g class="d"><circle cx="77.6" cy="194" r="1.1"/><circle cx="88.8" cy="194" r="1.1"/><circle cx="88.8" cy="212" r="1.1"/><circle cx="77.6" cy="228.2" r="1.1"/><circle cx="88.8" cy="228.2" r="1.1"/></g>
</g>

<g id="output-lower">
<use href="#ha" x="991.7" y="787"/>
<rect x="1008" y="724" width="82.6" height="135.9" rx="14" fill="#fff" stroke="#3fa0f0" stroke-width="1.2" stroke-dasharray="3 2"/>
<g class="bl">
<rect x="1029.8" y="742.9" width="11.5" height="12"/><rect x="1042.4" y="742.9" width="11.5" height="12"/><rect x="1069" y="742.9" width="11.5" height="12"/>
<rect x="1029.8" y="757.6" width="11.5" height="12"/><rect x="1042.4" y="757.6" width="11.5" height="12"/><rect x="1069" y="757.6" width="11.5" height="12"/>
<rect x="1029.8" y="771.3" width="11.5" height="12"/><rect x="1042.4" y="771.3" width="11.5" height="12"/><rect x="1069" y="771.3" width="11.5" height="12"/>
<rect x="1029.8" y="785" width="11.5" height="12"/><rect x="1042.4" y="785" width="11.5" height="12"/><rect x="1069" y="785" width="11.5" height="12"/>
<rect x="1029.8" y="815" width="11.5" height="12"/><rect x="1042.4" y="815" width="11.5" height="12"/><rect x="1069" y="813.5" width="11.5" height="12"/>
<rect x="1029.8" y="830.3" width="11.5" height="12"/><rect x="1042.4" y="830.3" width="11.5" height="12"/><rect x="1069" y="830.3" width="11.5" height="12"/>
</g>
<text x="1034.1" y="740" class="c">S1</text><text x="1048.6" y="740" class="c">S2</text><text x="1076.1" y="740" class="c">Sn</text>
<text x="1021.8" y="752.7" class="c">f1</text><text x="1021.8" y="767.4" class="c">f2</text><text x="1017.5" y="842" class="c">f2t+8</text>
<g class="d">
<circle cx="1061.7" cy="736.2" r="1.3"/><circle cx="1048" cy="733.5" r="1.1"/>
<circle cx="1061.7" cy="759.1" r="1.1"/>
<circle cx="1049.6" cy="781.4" r="1.1"/><circle cx="1061.7" cy="781.4" r="1.1"/><circle cx="1073.8" cy="781.4" r="1.1"/>
<circle cx="1048.6" cy="828.7" r="1.1"/><circle cx="1061.3" cy="828.7" r="1.1"/><circle cx="1073.5" cy="828.7" r="1.1"/>
<circle cx="1021.8" cy="781.4" r="1.1"/><circle cx="1021.8" cy="791.8" r="1.1"/><circle cx="1021.8" cy="815.6" r="1.1"/><circle cx="1021.8" cy="825.4" r="1.1"/>
<circle cx="1022.5" cy="805.8" r="1.1"/><circle cx="1033.4" cy="805.8" r="1.1"/><circle cx="1044.3" cy="805.8" r="1.1"/><circle cx="1048.6" cy="805.8" r="1.1"/><circle cx="1061.7" cy="805.8" r="1.1"/><circle cx="1073.5" cy="805.8" r="1.1"/>
</g>
</g>

<g id="combined-matrix">
<rect x="1155.5" y="501.5" width="64" height="154" fill="#fff" stroke="#000" stroke-width="1.2"/>
<g class="bg">
<rect x="1160.1" y="509.1" width="12" height="12"/><rect x="1175.3" y="509.1" width="12" height="12"/><rect x="1202.7" y="508" width="12" height="12"/>
<rect x="1160.1" y="522.7" width="12" height="12"/><rect x="1175.3" y="522.7" width="12" height="12"/><rect x="1202.7" y="522" width="12" height="12"/>
<rect x="1160.1" y="536.3" width="12" height="12"/><rect x="1175.3" y="536.3" width="12" height="12"/><rect x="1202.7" y="536" width="12" height="12"/>
<rect x="1160.1" y="564.1" width="12" height="11.7"/><rect x="1175.3" y="564.1" width="12" height="11.7"/><rect x="1202.7" y="563.5" width="12" height="11.7"/>
</g>
<g class="bl">
<rect x="1160.1" y="578" width="12" height="12"/><rect x="1175.3" y="578" width="12" height="12"/><rect x="1202.7" y="577.5" width="12" height="12"/>
<rect x="1160.1" y="591.6" width="12" height="11.6"/><rect x="1175.3" y="591.6" width="12" height="11.6"/><rect x="1202.7" y="591" width="12" height="11.6"/>
<rect x="1160.1" y="605.1" width="12" height="12"/><rect x="1175.3" y="605.1" width="12" height="12"/><rect x="1202.7" y="604.5" width="12" height="12"/>
<rect x="1160.1" y="633.5" width="12" height="11.7"/><rect x="1175.3" y="633.5" width="12" height="11.7"/><rect x="1202.7" y="633" width="12" height="11.7"/>
</g>
<g class="d">
<circle cx="1182.4" cy="522.7" r="1.1"/><circle cx="1193.2" cy="522.7" r="1.1"/><circle cx="1204.6" cy="522.7" r="1.1"/>
<circle cx="1161.4" cy="554.6" r="1.1"/><circle cx="1172.2" cy="554.6" r="1.1"/><circle cx="1183" cy="554.6" r="1.1"/><circle cx="1193.2" cy="554.6" r="1.1"/><circle cx="1195.6" cy="554.6" r="1.1"/><circle cx="1207.1" cy="554.6" r="1.1"/><circle cx="1217.9" cy="554.6" r="1.1"/>
<circle cx="1183" cy="590" r="1.1"/><circle cx="1194.1" cy="590" r="1.1"/><circle cx="1205.5" cy="590" r="1.1"/>
<circle cx="1183" cy="611.1" r="1.1"/><circle cx="1194.1" cy="611.1" r="1.1"/><circle cx="1205.5" cy="611.1" r="1.1"/>
<circle cx="1162.3" cy="625.3" r="1.1"/><circle cx="1173.1" cy="625.3" r="1.1"/><circle cx="1184.2" cy="625.3" r="1.1"/><circle cx="1196" cy="625.3" r="1.1"/><circle cx="1207.1" cy="625.3" r="1.1"/><circle cx="1217.9" cy="625.3" r="1.1"/>
<circle cx="1183" cy="638" r="1.1"/><circle cx="1194.1" cy="638" r="1.1"/><circle cx="1205.5" cy="638" r="1.1"/>
</g>
<polygon class="hol" points="1225,568.5 1238,568.5 1238,564.7 1248.1,571.8 1238,578.9 1238,575 1225,575"/>
</g>

<g id="prediction">
<rect class="bdash" x="1237" y="320" width="301" height="477"/>
<text x="1361" y="353" class="ttl" textLength="76">Prediction</text>
<text x="1314" y="461.5" class="c" textLength="65">Output layer</text>
<rect class="lbg" x="1258.6" y="477" width="122" height="236.7"/>
<rect class="gnb" x="1267.6" y="515.1" width="45" height="28.1"/><text class="bt" x="1290.1" y="533">RF</text>
<rect class="gnb" x="1267.6" y="557.5" width="45" height="27.7"/><text class="bt" x="1290.1" y="575.3">RF</text>
<rect class="erb" x="1267.6" y="595.7" width="45" height="28.1"/><text class="bt" x="1290.1" y="613.7" textLength="24">ERTs</text>
<rect class="erb" x="1267.6" y="635.8" width="45" height="27.7"/><text class="bt" x="1290.1" y="653.6" textLength="24">ERTs</text>
<rect class="col" x="1323.7" y="505.3" width="53.1" height="171.5"/>
<line class="sa" x1="1314" y1="529.1" x2="1323.5" y2="529.1"/><line class="sa" x1="1314" y1="571.3" x2="1323.5" y2="571.3"/><line class="sa" x1="1314" y1="609.7" x2="1323.5" y2="609.7"/><line class="sa" x1="1314" y1="649.6" x2="1323.5" y2="649.6"/>
<use href="#uN" x="1325.9" y="511"/><use href="#uN" x="1357.2" y="511"/>
<use href="#uN" x="1325.9" y="555.2"/><use href="#uN" x="1357.2" y="555.2"/>
<use href="#uG" x="1325.9" y="595.7"/><use href="#uG" x="1357.2" y="595.7"/>
<use href="#uG" x="1325.9" y="635.8"/><use href="#uG" x="1357.2" y="635.8"/>
<g class="d"><circle cx="1349" cy="528.4" r="1.2"/><circle cx="1349" cy="572.6" r="1.2"/><circle cx="1349" cy="611.4" r="1.2"/><circle cx="1349" cy="651.5" r="1.2"/>
<circle cx="1337.8" cy="526.3" r="1"/><circle cx="1337.8" cy="570.5" r="1"/><circle cx="1337.8" cy="611" r="1"/><circle cx="1337.8" cy="651.1" r="1"/></g>
<text x="1388" y="584" style="fill:#111" textLength="50">Ave &amp; Max</text>
<polygon class="hol" points="1395.3,593.5 1414,593.5 1414,590 1424.7,597.1 1414,604.2 1414,600.7 1395.3,600.7"/>
<text x="1478.7" y="502" class="c" style="fill:#5555ff" textLength="33">Output</text>
<rect x="1451.5" y="551.5" width="60.5" height="27.4" rx="4" fill="#dae8fc" stroke="#6c8ebf" stroke-width="1"/>
<text x="1481.7" y="563" class="c" style="font-size:10.5px" textLength="38">Disease</text>
<text x="1481.7" y="575.5" class="c" style="font-size:10.5px" textLength="54">prediction</text>
<rect x="1452.4" y="596.3" width="60.2" height="27.8" rx="4" fill="#fff2cc" stroke="#d6b656" stroke-width="1"/>
<text x="1482.5" y="608" class="c" style="font-size:10.5px" textLength="55">Biomarkers</text>
<text x="1482.5" y="620.5" class="c" style="font-size:10.5px" textLength="49">discovery</text>
</g>

</g>
</svg>
